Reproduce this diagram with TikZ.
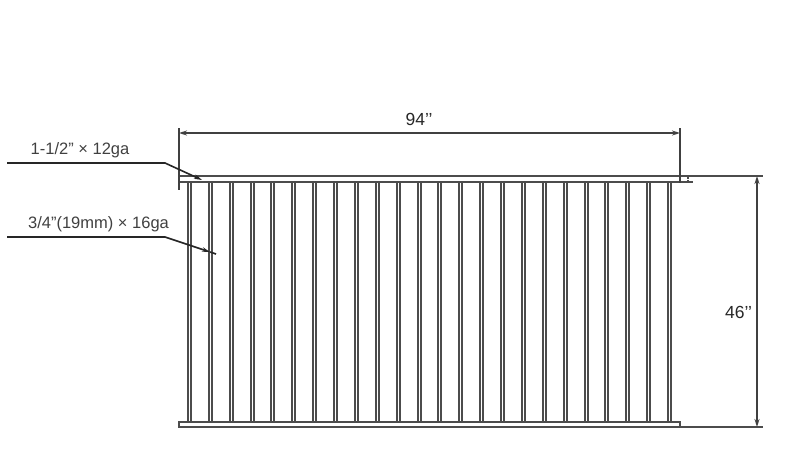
\documentclass[tikz,border=0pt]{standalone}
\usepackage{fontspec}
\setmainfont{Liberation Sans}
\usetikzlibrary{calc,arrows.meta}

\tikzset{
	dimline/.style={line width=1.6pt, black!75, {Stealth[length=8pt,width=5pt]}-{Stealth[length=8pt,width=5pt]}},
	leader/.style={line width=1.6pt, black!85, -{Stealth[length=8pt,width=4.5pt]}},
	picket/.style={line width=1.6pt, black!70},
	rail/.style={line width=1.6pt, black!70},
	extline/.style={line width=1.6pt, black!75},
	dimtext/.style={font=\fontsize{17.5}{20}\selectfont, inner sep=0pt, text=black!85},
	calltext/.style={font=\fontsize{16.5}{19}\selectfont, inner sep=0pt, text=black!75}
}

\begin{document}
\begin{tikzpicture}[x=1pt, y=-1pt]

	\useasboundingbox (0,0) rectangle (790,450);

	% ---- parameters

	\def\picketstart{188}
	\def\picketstep{20.87}
	\def\picketwidth{3}

	% ---- coordinates

	\coordinate (L1) at (179,128);
	\coordinate (L2) at (179,190);
	\coordinate (R1) at (680,128);
	\coordinate (R2) at (680,183);
	\coordinate (D1) at (179,133);
	\coordinate (D2) at (680,133);
	\coordinate (H1) at (757,176);
	\coordinate (H2) at (757,427);

	\coordinate (A1) at (7,163);
	\coordinate (A2) at (165,163);
	\coordinate (A3) at (202,180);
	\coordinate (B1) at (7,237);
	\coordinate (B2) at (165,237);
	\coordinate (B3) at (210,252);
	\coordinate (B4) at (216,254);

	% ---- pickets

	\foreach \i in {0,...,23} {
		\pgfmathsetmacro{\picketx}{round(\picketstart+\i*\picketstep)}
		\draw[picket] (\picketx,181.5) -- (\picketx,422);
		\draw[picket] (\picketx+\picketwidth,181.5) -- (\picketx+\picketwidth,422);
	}

	% ---- rails

	\draw[rail] (179,176) -- (763,176);
	\draw[rail] (179,182) -- (680,182);
	\draw[rail, fill=white] (179,422) rectangle (680,427);
	\draw[rail] (680,427) -- (763,427);

	% ---- small marks at the right end

	\draw[rail] (680,182) -- (693,182);
	\draw[rail] (688,177) -- (688,178.5);
	\draw[rail] (688,180) -- (688,181);

	% ---- extension lines

	\draw[extline] (L1) -- (L2);
	\draw[extline] (R1) -- (R2);

	% ---- dimensions

	\draw[dimline] (D1) -- (D2);
	\draw[dimline] (H1) -- (H2);

	\node[dimtext] (width) at (419,119) {94’’};
	\node[dimtext] (height) at (738.5,312) {46’’};

	% ---- leaders

	\draw[leader] (A1) -- (A2) -- (A3);
	\draw[leader] (B1) -- (B2) -- (B3);
	\draw[line width=1.6pt, black!85] (B3) -- (B4);

	\node[calltext] (railsize) at (80,150) {1-1/2" × 12ga};
	\node[calltext] (picketsize) at (98.5,224.5) {3/4"(19mm) × 16ga};

\end{tikzpicture}
\end{document}
